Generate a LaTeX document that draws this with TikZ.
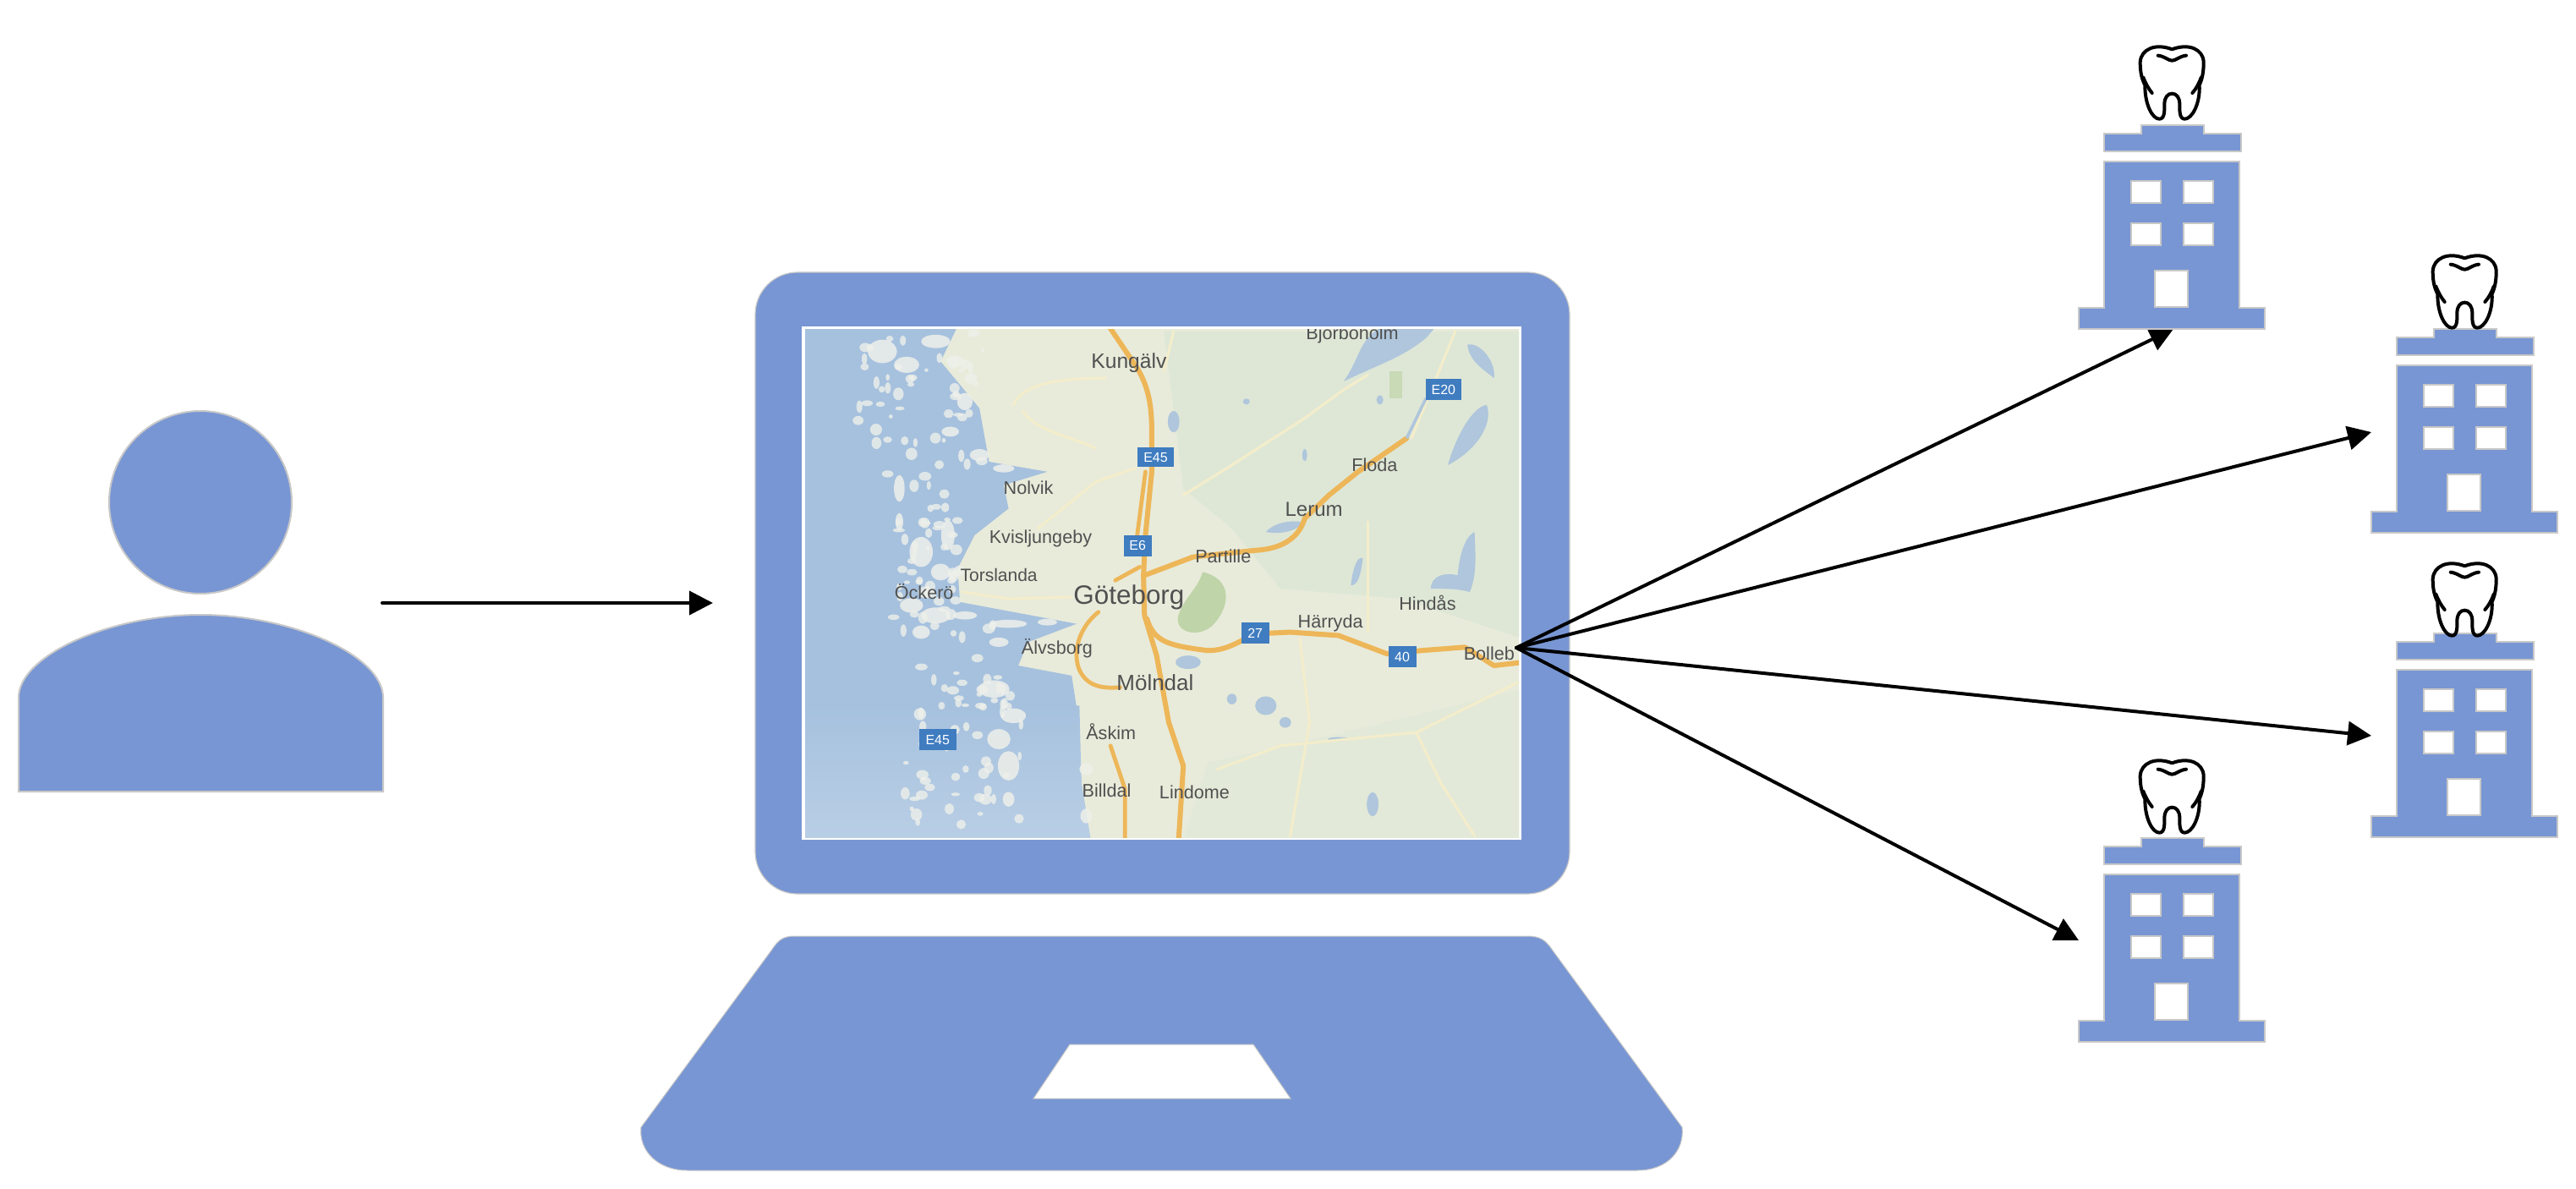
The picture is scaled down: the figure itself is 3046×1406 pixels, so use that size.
\documentclass[tikz,border=0pt]{standalone}
\usepackage{fontspec}
\setmainfont{Liberation Sans}
\usetikzlibrary{arrows.meta}
\definecolor{shapeblue}{HTML}{7896D3}
\definecolor{edgegrey}{HTML}{C8C8C8}
\definecolor{sea}{HTML}{A6C1DE}
\definecolor{land}{HTML}{E8EBDA}
\definecolor{paleg}{HTML}{DEE7D6}
\definecolor{park}{HTML}{BFD4A8}
\definecolor{lake}{HTML}{AFC6DC}
\definecolor{road}{HTML}{EDB658}
\definecolor{minor}{HTML}{F3EDCB}
\definecolor{shield}{HTML}{3F7CC0}
\definecolor{maptext}{HTML}{505050}
\definecolor{skerry}{HTML}{EEF0EA}
\tikzset{
  x=0.5pt,y=-0.5pt,
  shapefill/.style={fill=shapeblue,draw=edgegrey,line width=0.6pt},
  hole/.style={fill=white,draw=edgegrey,line width=0.6pt},
  flow/.style={draw=black,line width=2pt,line cap=round,-{Triangle[length=14pt,width=14pt]}},
  toothline/.style={draw=black,line width=2pt,line cap=round,line join=round},
  mainroad/.style={draw=road,line width=3pt,line cap=round,line join=round},
  minorroad/.style={draw=minor,line width=1.6pt,line cap=round,line join=round},
  lab/.style={inner sep=0pt,text=maptext,font=\fontsize{10.8}{12}\selectfont},
  shieldbox/.style={fill=shield,text=white,inner sep=0pt,font=\fontsize{8}{9}\selectfont,anchor=center},
}
\newcommand{\buildingicon}[2]{%
  \begin{scope}[shift={(#1,#2)}]
    \filldraw[shapefill] (0,-242)--(74,-242)--(74,-232)--(118,-232)--(118,-211)--(-44,-211)--(-44,-232)--(0,-232)--cycle;
    \filldraw[shapefill] (-44,-199)--(116,-199)--(116,-26)--(146,-26)--(146,-1)--(-74,-1)--(-74,-26)--(-44,-26)--cycle;
    \filldraw[hole] (-12,-176) rectangle (23,-150);
    \filldraw[hole] (50,-176) rectangle (85,-150);
    \filldraw[hole] (-12,-126) rectangle (23,-100);
    \filldraw[hole] (50,-126) rectangle (85,-100);
    \filldraw[hole] (16,-70) rectangle (55,-27);
  \end{scope}}
\newcommand{\toothicon}[2]{%
  \begin{scope}[shift={(#1,#2)},x=0.16667pt,y=-0.16667pt]
    \draw[toothline] (289,212) .. controls (275,185) and (272,160) .. (272,130)
      .. controls (275,85) and (325,62) .. (385,85)
      .. controls (445,62) and (495,85) .. (497,130)
      .. controls (497,160) and (494,185) .. (482,212)
      .. controls (485,280) and (455,332) .. (430,332)
      .. controls (410,332) and (412,300) .. (412,280)
      .. controls (412,255) and (400,242) .. (385,242)
      .. controls (370,242) and (358,255) .. (358,280)
      .. controls (358,300) and (360,332) .. (340,332)
      .. controls (315,332) and (288,280) .. (289,212);
    \draw[toothline] (283,185) .. controls (292,208) and (302,225) .. (314,240);
    \draw[toothline] (488,185) .. controls (480,208) and (470,225) .. (457,240);
    \draw[toothline] (335,107) .. controls (360,110) and (372,125) .. (385,125)
      .. controls (398,125) and (410,110) .. (435,107);
  \end{scope}}
\begin{document}
\begin{tikzpicture}
\pgfmathsetseed{4711}
\useasboundingbox (0,0) rectangle (3046,1406);
% person
\filldraw[shapefill,line width=1pt] (237,594) circle [radius=108];
\filldraw[shapefill,line width=1pt] (22,936) -- (22,825)
  .. controls (22,775) and (130,727) .. (237,727)
  .. controls (345,727) and (453,775) .. (453,825) -- (453,936) -- cycle;
% laptop
\filldraw[shapefill,line width=0.6pt,rounded corners=25pt] (893,322) rectangle (1856,1057);
\fill[white] (948,386) rectangle (1799,993);
\filldraw[shapefill,line width=0.5pt,even odd rule]
  (940,1107) -- (1805,1107) .. controls (1822,1107) and (1828,1112) .. (1836,1124)
  -- (1989,1333) .. controls (1992,1360) and (1972,1384) .. (1936,1384)
  -- (813,1384) .. controls (777,1384) and (755,1360) .. (758,1333)
  -- (912,1124) .. controls (920,1112) and (925,1107) .. (940,1107) -- cycle
  (1265,1235) -- (1482,1235) -- (1526,1299) -- (1222,1299) -- cycle;
% map
\begin{scope}
\clip (952,390) rectangle (1796,990);
\begin{scope}[shift={(940,380)},x=0.287pt,y=-0.1976pt]
  \fill[land] (0,0) rectangle (1520,1560);
  \fill[paleg] (760,30) -- (1500,30) -- (1500,950) -- (1250,830) -- (1000,800) -- (900,620) -- (800,500) -- cycle;
  \fill[paleg!50!land] (850,1320) -- (1100,1240) -- (1500,1100) -- (1500,1550) -- (800,1550) -- cycle;
  \fill[sea] (0,0) -- (340,0) -- (300,120) -- (380,260) -- (400,420) -- (520,450) -- (430,490) -- (440,560)
    -- (370,640) -- (335,740) -- (340,840) -- (580,905) -- (480,960) -- (460,1030) -- (570,1060)
    -- (585,1200) -- (590,1380) -- (610,1560) -- (0,1560) -- cycle;
  \shade[top color=sea,bottom color=sea!78!white] (0,1150) -- (586,1150) -- (590,1380) -- (610,1560) -- (0,1560) -- cycle;
  % skerries: larger patches
  \foreach \px/\py/\rx/\ry in {
    180/90/30/35, 290/60/30/20, 230/130/26/24, 330/120/18/18, 350/240/16/26,
    320/330/18/15, 380/400/20/18, 430/440/22/12, 215/500/11/40, 215/600/8/26, 315/640/14/45,
    260/690/24/45, 300/750/20/25, 240/850/24/22, 290/880/30/24, 260/930/18/20, 350/880/25/12,
    440/905/38/12, 520/900/20/10, 420/960/20/14, 410/1100/32/26, 450/1180/26/22, 420/1250/24/30,
    440/1330/22/44, 440/1430/12/22, 600/1340/14/18, 600/1480/12/22}
    \fill[skerry,opacity=0.85] (\px,\py) ellipse [x radius=\rx,y radius=\ry];
  % skerries: fine fragments scattered along the coast
  \foreach \i in {1,...,170}{
    \pgfmathsetmacro{\sy}{30+rnd*1480}
    \pgfmathsetmacro{\sx}{(\sy<480 ? 130+rnd*260 : (\sy<900 ? 200+rnd*140 : 200+rnd*270))}
    \pgfmathsetmacro{\sa}{4+rnd*9}
    \pgfmathsetmacro{\sb}{5+rnd*14}
    \fill[skerry,opacity=0.8] (\sx,\sy) ellipse [x radius=\sa,y radius=\sb];
  }
  % lakes
  \fill[lake] (1130,180) .. controls (1170,100) and (1160,30) .. (1240,0) -- (1330,0) -- (1300,50) .. controls (1250,110) and (1200,130) .. (1130,180) -- cycle;
  \fill[lake] (1345,430) .. controls (1360,350) and (1395,255) .. (1425,250) .. controls (1440,310) and (1400,390) .. (1345,430) -- cycle;
  \fill[lake] (1385,70) .. controls (1410,60) and (1445,120) .. (1440,170) .. controls (1415,140) and (1390,120) .. (1385,70) -- cycle;
  \fill[lake] (1365,760) .. controls (1370,680) and (1385,640) .. (1400,630) .. controls (1402,700) and (1405,760) .. (1390,810) .. controls (1370,800) and (1340,800) .. (1310,800) .. controls (1310,760) and (1340,750) .. (1365,760) -- cycle;
  \fill[lake] (970,630) .. controls (990,600) and (1020,595) .. (1045,600) .. controls (1040,625) and (1000,640) .. (970,630) -- cycle;
  \fill[lake] (1145,790) .. controls (1150,730) and (1160,700) .. (1170,710) .. controls (1165,760) and (1160,790) .. (1145,790) -- cycle;
  \fill[lake] (970,1150) ellipse [x radius=22,y radius=28];
  \fill[lake] (1010,1200) ellipse [x radius=12,y radius=16];
  \fill[lake] (900,1130) ellipse [x radius=10,y radius=16];
  \fill[lake] (1190,1445) ellipse [x radius=12,y radius=36];
  \fill[lake] (810,1020) ellipse [x radius=26,y radius=20];
  \fill[lake] (1120,1250) ellipse [x radius=22,y radius=6];
  \fill[lake] (1205,235) ellipse [x radius=7,y radius=14];
  \fill[lake] (1050,400) ellipse [x radius=5,y radius=18];
  \fill[lake] (930,240) ellipse [x radius=7,y radius=9];
  \fill[lake] (780,300) ellipse [x radius=12,y radius=32];
  % park
  \fill[park] (840,750) .. controls (900,770) and (900,850) .. (860,910) .. controls (830,950) and (780,930) .. (790,880) .. controls (800,830) and (830,800) .. (840,750) -- cycle;
  \fill[park!70!paleg] (1225,150) rectangle (1250,230);
  % minor roads
  \draw[minorroad] (800,520) -- (900,430) -- (1050,290) -- (1130,205) -- (1180,160);
  \draw[minorroad] (450,250) .. controls (470,180) and (560,170) .. (640,170);
  \draw[minorroad] (470,270) .. controls (500,330) and (560,340) .. (620,380);
  \draw[minorroad] (500,620) -- (620,480) -- (700,440);
  \draw[minorroad] (345,810) -- (440,830) -- (570,825);
  \draw[minorroad] (870,1340) -- (1000,1270) -- (1280,1230) -- (1490,1080);
  \draw[minorroad] (1040,950) -- (1060,1200) -- (1020,1540);
  \draw[minorroad] (1280,1230) -- (1330,1380) -- (1400,1540);
  \draw[minorroad] (1180,930) -- (1180,600);
  \draw[minorroad] (1270,350) -- (1360,30);
  \draw[minorroad] (780,30) -- (760,150);
  % main roads
  \draw[mainroad] (640,0) -- (705,140) .. controls (730,200) and (735,260) .. (735,330) -- (735,450) -- (722,640) -- (718,760) -- (720,880) -- (745,1000) -- (770,1200) -- (800,1330) -- (790,1560);
  \draw[mainroad,line width=2.4pt] (722,450) -- (705,640);
  \draw[mainroad,line width=2.4pt] (650,1270) -- (680,1400) -- (680,1560);
  \draw[mainroad] (720,760) -- (820,705) -- (950,685) .. controls (1010,680) and (1040,640) .. (1050,590) -- (1100,520) -- (1160,450) -- (1260,350);
  \draw[draw=lake,line width=1.8pt] (1260,350) -- (1300,230);
  \draw[mainroad] (725,890) .. controls (740,960) and (770,970) .. (850,985) .. controls (890,985) and (910,960) .. (950,935) -- (1020,930) -- (1120,940) -- (1220,995) -- (1290,985) -- (1380,975) -- (1440,1030) -- (1500,1020);
  \draw[mainroad,line width=2.4pt] (660,775) -- (710,735);
  \draw[mainroad,line width=2.4pt] (625,870) .. controls (590,910) and (570,980) .. (585,1040) .. controls (600,1090) and (630,1100) .. (670,1095);
  % shields
  \node[shieldbox,minimum width=21.2pt,minimum height=11.6pt] (sE) at (743,407) {E45};
  \node[shieldbox,minimum width=16.4pt,minimum height=12.4pt] (sS) at (706,671) {E6};
  \node[shieldbox,minimum width=21pt,minimum height=12.4pt] (sT) at (1336,204) {E20};
  \node[shieldbox,minimum width=16.4pt,minimum height=12.4pt] (sN) at (948,933) {27};
  \node[shieldbox,minimum width=16.6pt,minimum height=12.4pt] (sF) at (1251,1004) {40};
  \node[shieldbox,minimum width=22pt,minimum height=12.4pt] (sW) at (294,1252) {E45};
  % labels
  \node[lab] (bj) at (1148,40) {Björbohölm};
  \node[lab,font=\fontsize{12.3}{14}\selectfont] (ku) at (688,125) {Kungälv};
  \node[lab] (no) at (481,498) {Nolvik};
  \node[lab] (kv) at (506,650) {Kvisljungeby};
  \node[lab,font=\fontsize{10.5}{12}\selectfont] (to) at (420,760) {Torslanda};
  \node[lab] (oc) at (266,808) {Öckerö};
  \node[lab,font=\fontsize{15.7}{18}\selectfont] (go) at (688,826) {Göteborg};
  \node[lab] (al) at (540,978) {Älvsborg};
  \node[lab,font=\fontsize{13}{15}\selectfont] (mo) at (742,1080) {Mölndal};
  \node[lab] (pa) at (882,702) {Partille};
  \node[lab,font=\fontsize{12}{14}\selectfont] (le) at (1069,562) {Lerum};
  \node[lab] (fl) at (1194,430) {Floda};
  \node[lab] (hi) at (1303,843) {Hindås};
  \node[lab] (ha) at (1103,903) {Härryda};
  \node[lab,anchor=west] (bo) at (1377,995) {Bolleb};
  \node[lab] (as) at (651,1228) {Åskim};
  \node[lab] (bi) at (642,1405) {Billdal};
  \node[lab] (li) at (823,1408) {Lindome};
\end{scope}
\end{scope}
% anchors for connectors
\coordinate (userside) at (452,713);
\coordinate (laptopside) at (843,713);
\coordinate (hub) at (1793,766);
\coordinate (clinicA) at (2570,389);
\coordinate (clinicB) at (2804,511);
\coordinate (clinicC) at (2804,870);
\coordinate (clinicD) at (2458,1112);
\draw[flow] (userside) -- (laptopside);
\draw[flow] (hub) -- (clinicA);
\draw[flow] (hub) -- (clinicB);
\draw[flow] (hub) -- (clinicC);
\draw[flow] (hub) -- (clinicD);
% clinics
\buildingicon{2532}{390}
\buildingicon{2878}{631}
\buildingicon{2878}{991}
\buildingicon{2532}{1233}
\toothicon{2440}{30}
\toothicon{2786}{277}
\toothicon{2786}{641}
\toothicon{2440}{874}
\end{tikzpicture}
\end{document}
